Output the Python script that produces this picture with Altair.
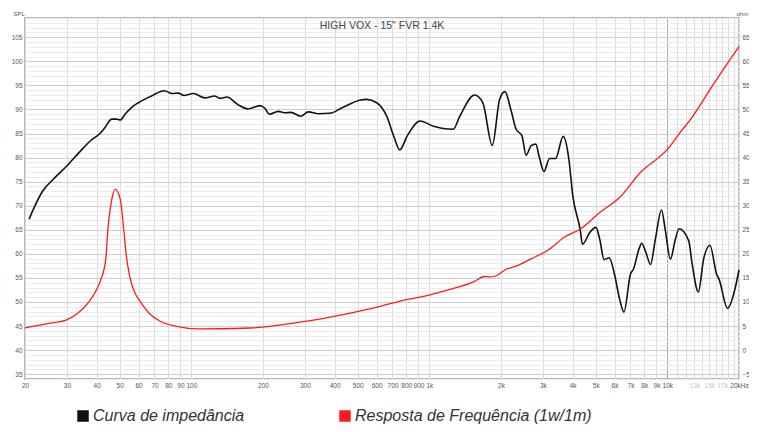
import altair as alt
import pandas as pd

SPL_NAME = "Curva de impedância"
IMP_NAME = "Resposta de Frequência (1w/1m)"
TITLE = 'HIGH VOX - 15" FVR 1.4K'

# black curve (left axis, SPL dB)
spl_freq = [20.8, 21.7, 23.7, 26.3, 29.9, 34.1, 37.5, 41.3, 43.3, 46.3, 48.5, 50.3, 52.6, 56, 59.9,
            68, 77, 83, 88, 93, 102, 114, 125, 132, 141, 157, 173, 194, 203, 213, 232, 246, 262,
            288, 310, 342, 381, 432, 509, 544, 601, 662, 708, 751, 807, 915, 1040, 1128, 1260,
            1343, 1549, 1677, 1838, 1974, 2077, 2200, 2310, 2450, 2550, 2680, 2800, 2900, 3030,
            3200, 3390, 3650, 3860, 4000, 4300, 4400, 4730, 5010, 5200, 5420, 5700, 6000, 6300,
            6570, 7000, 7200, 7600, 7800, 8100, 8500, 8900, 9450, 9800, 10300, 10800, 11200,
            12300, 12700, 13500, 14200, 15100, 16100, 16500, 17900, 19300, 20000]
spl_db = [67.2, 69.3, 73.0, 75.5, 78.2, 81.3, 83.4, 85.0, 86.2, 88.0, 88.0, 87.8, 89.0, 90.4, 91.4,
          92.8, 93.9, 93.3, 93.4, 92.9, 93.3, 92.4, 92.8, 92.3, 92.6, 91.0, 90.1, 90.8, 90.3, 89.0,
          89.6, 89.3, 89.4, 88.6, 89.5, 89.1, 89.2, 90.4, 91.9, 92.1, 91.4, 88.6, 84.5, 81.6, 84.5,
          87.6, 86.5, 86.1, 85.9, 88.6, 93.0, 91.4, 82.5, 92.1, 93.7, 90.0, 86.0, 84.5, 80.5,
          82.5, 82.8, 80.0, 77.1, 79.8, 79.8, 84.4, 79.5, 72.3, 65.1, 62.0, 64.5, 65.5, 63.0,
          58.8, 59.2, 55.7, 50.6, 47.9, 55.8, 56.8, 61.0, 62.2, 60.5, 57.8, 63.0, 69.1, 65.0,
          58.9, 63.0, 65.2, 62.7, 58.0, 52.1, 58.9, 61.8, 55.8, 54.7, 48.7, 53.0, 56.7]

# red curve (right axis, ohm)
imp_freq = [20, 25.5, 29.9, 33, 37, 40, 41.7, 43.7, 44.5, 46.3, 47.9, 50.3, 52.0, 53.2, 55.2, 58.3,
            60.8, 67, 74, 85.5, 109, 177, 286, 466, 622, 785, 914, 1220, 1550, 1700, 1800, 1900,
            2100, 2300, 2660, 3200, 3700, 4300, 5200, 6300, 7700, 10000, 11600, 12500, 15600, 20000]
imp_ohm = [4.6, 5.6, 6.3, 7.5, 9.9, 12.6, 14.7, 18.9, 24.4, 31.3, 33.4, 31.3, 25.0, 20.0, 15.1, 11.6,
           10.2, 7.5, 6.0, 5.0, 4.4, 4.6, 5.8, 7.7, 9.1, 10.4, 11.0, 12.6, 14.3, 15.3, 15.2, 15.4,
           16.8, 17.4, 18.9, 21.0, 23.5, 25.1, 28.6, 31.7, 36.9, 41.7, 45.9, 47.9, 55.2, 63.1]

x_ticks = [20, 30, 40, 50, 60, 70, 80, 90, 100, 200, 300, 400, 500, 600, 700, 800, 900,
           1000, 2000, 3000, 4000, 5000, 6000, 7000, 8000, 9000, 10000, 11000, 12000, 13000,
           14000, 15000, 16000, 17000, 18000, 19000, 20000]
x_tick_labels = ["20", "30", "40", "50", "60", "70", "80", "90", "100", "200", "300", "400", "500",
                 "600", "700", "800", "900", "1k", "2k", "3k", "4k", "5k", "6k", "7k", "8k", "9k",
                 "10k", "", "", "13k", "", "15k", "", "17k", "", "", "20kHz"]
spl_ticks = list(range(34, 110))
ohm_ticks = list(range(-5, 70, 5))

spl_df = pd.DataFrame({"freq": spl_freq, "val": spl_db, "series": SPL_NAME})
imp_df = pd.DataFrame({"freq": imp_freq, "val": imp_ohm, "series": IMP_NAME})

label_expr = "[" + ",".join("'%s'" % s for s in x_tick_labels) + "][indexof([" + \
    ",".join(str(v) for v in x_ticks) + "], datum.value)]"

xscale = alt.Scale(type="log", domain=[20, 20000], nice=False)
xaxis = alt.Axis(values=x_ticks, labelExpr=label_expr, title=None, ticks=False, domain=False,
                 labelFontSize=6.5, labelFont="Liberation Sans", labelPadding=3,
                 labelColor={"condition": {"test": "datum.value > 10500 && datum.value < 19500",
                                           "value": "#c4c4c4"}, "value": "#555555"},
                 labelOverlap=False, labelFlush=False, grid=True,
                 gridColor={"condition": {"test": "datum.value == 10000", "value": "#a8a8a8"},
                            "value": "#dadada"},
                 gridWidth=1)

color = alt.Color("series:N",
                  scale=alt.Scale(domain=[SPL_NAME, IMP_NAME], range=["#111111", "#ff1a1a"]),
                  legend=alt.Legend(title=None, orient="none", legendX=50, legendY=390,
                                    direction="horizontal", symbolType="square", symbolSize=36,
                                    symbolStrokeWidth=5.5, labelFont="Liberation Sans",
                                    labelFontStyle="italic", labelFontSize=16, labelColor="#333333",
                                    labelOffset=2, columnPadding=86, padding=0, labelLimit=400))

spl_line = alt.Chart(spl_df).mark_line(strokeWidth=1.6, interpolate="monotone").encode(
    x=alt.X("freq:Q", scale=xscale, axis=xaxis),
    y=alt.Y("val:Q", scale=alt.Scale(domain=[34, 109], nice=False, zero=False),
            axis=alt.Axis(values=spl_ticks, orient="left", title="SPL", titleAngle=0,
                          titleX=-12, titleY=-5, titleAlign="left", titleBaseline="middle",
                          titleFontSize=6, titleFontWeight="normal", titleColor="#555555",
                          titleFont="Liberation Sans",
                          labelExpr="datum.value % 5 == 0 ? datum.value : ''",
                          ticks=False, domain=False, labelFontSize=6.5, labelColor="#555555",
                          labelFont="Liberation Sans", labelPadding=3, labelOverlap=False,
                          labelFlush=False,
                          gridColor={"condition": {"test": "datum.value % 5 == 0",
                                                   "value": "#cfcfcf"}, "value": "#ececec"})),
    color=color,
)

imp_line = alt.Chart(imp_df).mark_line(strokeWidth=1.3, interpolate="monotone").encode(
    x=alt.X("freq:Q", scale=xscale, axis=xaxis),
    y=alt.Y("val:Q", scale=alt.Scale(domain=[-6, 69], nice=False, zero=False),
            axis=alt.Axis(values=ohm_ticks, orient="right", title="ohm", titleAngle=0,
                          titleX=-3, titleY=-5, titleAlign="left", titleBaseline="middle",
                          titleFontSize=6, titleFontWeight="normal", titleColor="#555555",
                          titleFont="Liberation Sans", grid=False,
                          ticks=False, domain=False, labelFontSize=6.5, labelColor="#555555",
                          labelFont="Liberation Sans", labelPadding=3, labelOverlap=False,
                          labelFlush=False)),
    color=color,
)

chart = alt.layer(spl_line, imp_line).resolve_scale(y="independent").properties(
    width=714, height=361,
    autosize=alt.AutoSizeParams(type="none"),
    padding={"left": 17, "top": 10, "right": 10, "bottom": 45},
    background="white",
    title=alt.TitleParams(TITLE, anchor="middle", fontSize=10.5, fontWeight="normal",
                          color="#444444", font="Liberation Sans", offset=0, dy=21),
).configure_view(stroke="#b8b8b8", strokeWidth=2)

chart.save("out.html", embed_options={"renderer": "svg", "actions": False})
